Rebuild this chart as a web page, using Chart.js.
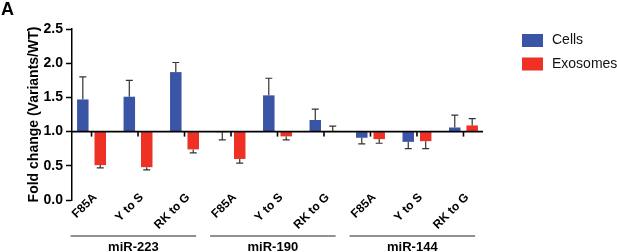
<!DOCTYPE html>
<html lang="en">
<head>
<meta charset="UTF-8" />
<title>Fold change (Variants/WT)</title>
<script src="https://cdn.jsdelivr.net/npm/chart.js"></script>
<style>
  body { margin: 0; background: #fff; }
  #wrap { width: 617px; height: 252px; position: relative; }
</style>
</head>
<body>
<div id="wrap"><canvas id="chart"></canvas></div>
<script>
// values (bars start at 1.0)
const categories = ['F85A', 'Y to S', 'RK to G', 'F85A', 'Y to S', 'RK to G', 'F85A', 'Y to S', 'RK to G'];
const groups = ['miR-223', 'miR-190', 'miR-144'];
const cells = [1.47, 1.51, 1.87, 0.99, 1.53, 1.17, 0.91, 0.85, 1.06];
const cellsErr = [1.80, 1.75, 2.01, 0.88, 1.78, 1.33, 0.82, 0.75, 1.24];
const exosomes = [0.51, 0.48, 0.74, 0.60, 0.93, 1.01, 0.89, 0.86, 1.09];
const exosomesErr = [0.47, 0.44, 0.69, 0.54, 0.88, 1.08, 0.83, 0.75, 1.19];
const yTicks = [0, 0.5, 1.0, 1.5, 2.0, 2.5];

const BLUE = '#3a55a6';
const RED = '#ee3124';
const FONT = '"Liberation Sans", Arial, sans-serif';

// error bars, baseline at 1.0, small x ticks, slanted labels, group brackets, legend, panel letter
const extras = {
  id: 'extras',
  afterDatasetsDraw(chart) {
    const ctx = chart.ctx;
    const x = chart.scales.x, y = chart.scales.y;
    const area = chart.chartArea;
    ctx.save();
    ctx.strokeStyle = '#333';
    ctx.lineWidth = 1.2;
    chart.data.datasets.forEach((ds, d) => {
      const meta = chart.getDatasetMeta(d);
      meta.data.forEach((bar, i) => {
        const y1 = y.getPixelForValue(ds.data[i].y);
        const y2 = y.getPixelForValue(ds.errors[i]);
        ctx.beginPath();
        ctx.moveTo(bar.x, y1);
        ctx.lineTo(bar.x, y2);
        ctx.moveTo(bar.x - 3.5, y2);
        ctx.lineTo(bar.x + 3.5, y2);
        ctx.stroke();
      });
    });

    // baseline at 1.0
    const y1 = y.getPixelForValue(1);
    ctx.strokeStyle = '#000';
    ctx.lineWidth = 1.6;
    ctx.beginPath();
    ctx.moveTo(area.left, y1);
    ctx.lineTo(area.right, y1);
    ctx.stroke();
    // tick marks under the baseline
    categories.forEach((c, i) => {
      const px = x.getPixelForValue(i);
      ctx.beginPath();
      ctx.moveTo(px, y1);
      ctx.lineTo(px, y1 + 5);
      ctx.stroke();
    });

    // slanted category labels
    ctx.fillStyle = '#000';
    ctx.font = 'bold 12px ' + FONT;
    ctx.textAlign = 'right';
    ctx.textBaseline = 'middle';
    categories.forEach((c, i) => {
      const px = x.getPixelForValue(i);
      ctx.save();
      ctx.translate(px + 3.5, area.bottom - 4.5);
      ctx.rotate(-Math.PI / 4);
      ctx.fillText(c, 0, 0);
      ctx.restore();
    });

    // group brackets
    const unit = x.getPixelForValue(1) - x.getPixelForValue(0);
    ctx.lineWidth = 1;
    ctx.strokeStyle = '#222';
    ctx.font = 'bold 13px ' + FONT;
    ctx.textAlign = 'center';
    groups.forEach((g, k) => {
      const x0 = x.getPixelForValue(k * 3) - unit * 0.45;
      const x1 = x.getPixelForValue(k * 3 + 2) + unit * 0.25;
      ctx.beginPath();
      ctx.moveTo(x0, 236);
      ctx.lineTo(x1, 236);
      ctx.stroke();
      ctx.fillText(g, (x0 + x1) / 2, 247);
    });

    // legend
    ctx.font = '14px ' + FONT;
    ctx.textAlign = 'left';
    chart.data.datasets.forEach((ds, d) => {
      const top = 34 + d * 23.5;
      ctx.fillStyle = ds.backgroundColor;
      ctx.fillRect(522, top, 21, 13);
      ctx.fillStyle = '#111';
      ctx.fillText(ds.label, 552, top + 6.5);
    });

    // panel letter
    ctx.font = 'bold 18px ' + FONT;
    ctx.textBaseline = 'top';
    ctx.fillStyle = '#000';
    ctx.fillText('A', 1, 1);
    ctx.restore();
  }
};

new Chart(document.getElementById('chart'), {
  type: 'bar',
  data: {
    datasets: [
      {
        label: 'Cells',
        data: categories.map((c, i) => ({ x: i, y: cells[i] })),
        errors: cellsErr,
        backgroundColor: BLUE,
        base: 1
      },
      {
        label: 'Exosomes',
        data: categories.map((c, i) => ({ x: i, y: exosomes[i] })),
        errors: exosomesErr,
        backgroundColor: RED,
        base: 1
      }
    ]
  },
  options: {
    responsive: true,
    maintainAspectRatio: false,
    animation: false,
    categoryPercentage: 0.75,
    barPercentage: 0.66,
    layout: { padding: { top: 29, left: 0, right: 134, bottom: 0 } },
    plugins: {
      legend: { display: false },
      tooltip: { enabled: false }
    },
    scales: {
      x: {
        type: 'linear',
        offset: false,
        min: -0.42,
        max: 8.42,
        grid: { display: false, drawTicks: false },
        border: { display: false },
        afterBuildTicks: s => { s.ticks = categories.map((c, i) => ({ value: i })); },
        afterFit: s => { s.height = 52; },
        ticks: { display: false }
      },
      y: {
        min: 0,
        max: 2.5,
        afterBuildTicks: s => { s.ticks = yTicks.map(v => ({ value: v })); },
        afterFit: s => { s.width = 72; },
        grid: { drawOnChartArea: false, tickLength: 6, tickColor: '#000', tickWidth: 1.5 },
        border: { color: '#000', width: 1.5 },
        ticks: {
          padding: 3,
          color: '#000',
          font: { family: FONT, size: 14, weight: 'bold' },
          callback: v => v.toFixed(1)
        },
        title: {
          display: true,
          text: 'Fold change (Variants/WT)',
          color: '#000',
          padding: { top: 25.5, bottom: 0 },
          font: { family: FONT, size: 14, weight: 'bold' }
        }
      }
    }
  },
  plugins: [extras]
});
</script>
</body>
</html>
